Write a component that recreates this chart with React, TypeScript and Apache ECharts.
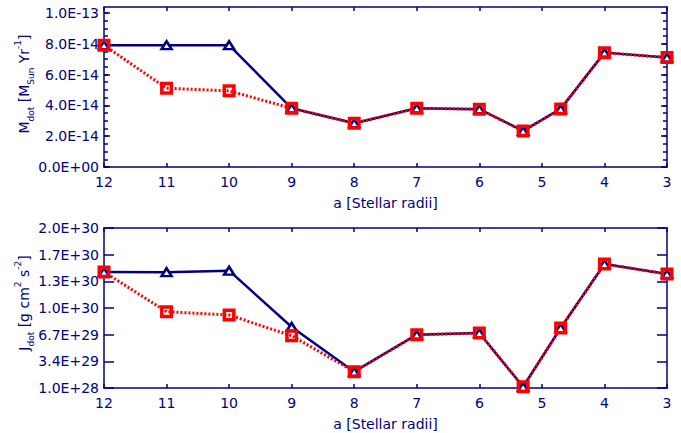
import React, { useEffect, useRef } from 'react';
import * as echarts from 'echarts';

const radii = [12, 11, 10, 9, 8, 7, 6, 5.3, 4.7, 4, 3];
const mdotTriangles = [7.9e-14, 7.9e-14, 7.9e-14, 3.81e-14, 2.84e-14, 3.81e-14, 3.75e-14, 2.34e-14, 3.77e-14, 7.42e-14, 7.1e-14];
const mdotSquares = [7.9e-14, 5.11e-14, 4.94e-14, 3.81e-14, 2.84e-14, 3.81e-14, 3.75e-14, 2.34e-14, 3.77e-14, 7.42e-14, 7.1e-14];
const jdotTriangles = [1.453e30, 1.45e30, 1.469e30, 7.69e29, 2.13e29, 6.73e29, 6.94e29, 2.5e28, 7.56e29, 1.552e30, 1.428e30];
const jdotSquares = [1.453e30, 9.59e29, 9.18e29, 6.6e29, 2.13e29, 6.73e29, 6.94e29, 2.5e28, 7.56e29, 1.552e30, 1.428e30];

const mdotTicks = [0, 2e-14, 4e-14, 6e-14, 8e-14, 1e-13];
const mdotMinorTicks = [
  0, 5e-15, 1e-14, 1.5e-14, 2e-14, 2.5e-14, 3e-14, 3.5e-14, 4e-14, 4.5e-14, 5e-14,
  5.5e-14, 6e-14, 6.5e-14, 7e-14, 7.5e-14, 8e-14, 8.5e-14, 9e-14, 9.5e-14, 1e-13,
];
const jdotTicks = [1.0e28, 3.417e29, 6.733e29, 1.005e30, 1.3367e30, 1.6683e30, 2.0e30];
const xLabel = 'a [Stellar radii]';

const navy = '#000080';
const red = '#f00';
const font = 'DejaVu Sans';

function sci(v: number): string {
  if (v === 0) return '0.0E+00';
  const [m, e] = v.toExponential(1).split('e');
  const n = parseInt(e, 10);
  return m + 'E' + (n < 0 ? '-' : '+') + String(Math.abs(n)).padStart(2, '0');
}

const lineStyle = { color: navy, width: 1.5 };

function xAxes(grid: number, withName: boolean) {
  const base = {
    gridIndex: grid,
    type: 'value',
    min: 3,
    max: 12,
    interval: 1,
    inverse: true,
    splitLine: { show: false },
    axisLine: { show: true, onZero: false, lineStyle },
    axisTick: { show: true, inside: true, length: 4, lineStyle },
  };
  return [
    {
      ...base,
      position: 'bottom',
      axisLabel: { show: true, margin: 8, color: navy, fontSize: 14, fontFamily: font },
      name: withName ? xLabel : '',
      nameLocation: 'middle',
      nameGap: 29,
      nameTextStyle: { color: navy, fontSize: 14, fontFamily: font },
    },
    { ...base, position: 'top', axisLabel: { show: false } },
  ];
}

function yAxes(grid: number, min: number, max: number, majors: number[], minors: number[] | null, majorLen: number) {
  const base = {
    gridIndex: grid,
    type: 'value',
    min,
    max,
    splitLine: { show: false },
  };
  const out: any[] = [
    {
      ...base,
      position: 'left',
      axisLine: { show: true, onZero: false, lineStyle },
      axisTick: { show: true, inside: true, length: majorLen, customValues: majors, lineStyle },
      axisLabel: {
        show: true,
        customValues: majors,
        formatter: (v: number) => sci(v),
        margin: 5,
        color: navy,
        fontSize: 14,
        fontFamily: font,
      },
    },
    {
      ...base,
      position: 'right',
      axisLine: { show: true, onZero: false, lineStyle },
      axisTick: { show: true, inside: true, length: majorLen, customValues: majors, lineStyle },
      axisLabel: { show: false },
    },
  ];
  if (minors) {
    out.push(
      {
        ...base,
        position: 'left',
        axisLine: { show: false },
        axisTick: { show: true, inside: true, length: 4, customValues: minors, lineStyle },
        axisLabel: { show: false },
      },
      {
        ...base,
        position: 'right',
        axisLine: { show: false },
        axisTick: { show: true, inside: true, length: 4, customValues: minors, lineStyle },
        axisLabel: { show: false },
      }
    );
  }
  return out;
}

function pairs(ys: number[]) {
  return radii.map((x, i) => [x, ys[i]]);
}

function triSeries(xi: number, yi: number, ys: number[]) {
  return {
    type: 'line',
    xAxisIndex: xi,
    yAxisIndex: yi,
    data: pairs(ys),
    symbol: 'triangle',
    symbolSize: [10, 8],
    itemStyle: { color: '#fff', borderColor: navy, borderWidth: 2.5 },
    lineStyle: { color: navy, width: 2.5 },
    silent: true,
    clip: false,
  };
}

function sqSeries(xi: number, yi: number, ys: number[]) {
  return {
    type: 'line',
    xAxisIndex: xi,
    yAxisIndex: yi,
    data: pairs(ys),
    symbol: 'rect',
    symbolSize: 9.5,
    itemStyle: { color: 'transparent', borderColor: red, borderWidth: 3.5 },
    lineStyle: { color: red, width: 3, type: [2, 2] },
    silent: true,
    clip: false,
  };
}

const richBase = {
  m: { fontSize: 14, fontFamily: font, fill: navy, color: navy, lineHeight: 22, verticalAlign: 'middle' },
  sub: { fontSize: 9, fontFamily: font, fill: navy, color: navy, lineHeight: 12, verticalAlign: 'bottom' },
  sup: { fontSize: 9, fontFamily: font, fill: navy, color: navy, lineHeight: 12, verticalAlign: 'top' },
};

export default function App() {
  const ref = useRef<HTMLDivElement>(null);
  useEffect(() => {
    if (!ref.current) return;
    const chart = echarts.init(ref.current, null, { renderer: 'svg' });
    const topY = yAxes(0, 0, 1.038e-13, mdotTicks, mdotMinorTicks, 6);
    const botY = yAxes(1, 1e28, 2e30, jdotTicks, null, 10);
    chart.setOption({
      animation: false,
      backgroundColor: '#fff',
      grid: [
        { left: 104, top: 7, width: 563, height: 160 },
        { left: 104, top: 228, width: 563, height: 160 },
      ],
      xAxis: [...xAxes(0, true), ...xAxes(1, true)],
      yAxis: [...topY, ...botY],
      series: [
        triSeries(0, 0, mdotTriangles),
        sqSeries(0, 0, mdotSquares),
        triSeries(2, topY.length, jdotTriangles),
        sqSeries(2, topY.length, jdotSquares),
      ],
      graphic: [
        {
          type: 'text',
          x: 24,
          y: 84,
          rotation: Math.PI / 2,
          style: {
            text: '{m|M}{sub|dot}{m| [M}{sub|Sun}{m| Yr}{sup|-1}{m|]}',
            rich: richBase,
            align: 'center',
            verticalAlign: 'middle',
            fill: navy,
          },
        },
        {
          type: 'text',
          x: 24,
          y: 303,
          rotation: Math.PI / 2,
          style: {
            text: '{m|J}{sub|dot}{m| [g cm}{sup|2}{m| s}{sup|-2}{m|]}',
            rich: richBase,
            align: 'center',
            verticalAlign: 'middle',
            fill: navy,
          },
        },
      ],
    });
    return () => chart.dispose();
  }, []);
  return (
    <div
      ref={ref}
      style={{ position: 'fixed', left: 0, top: 0, width: 681, height: 433, background: '#fff' }}
    />
  );
}
